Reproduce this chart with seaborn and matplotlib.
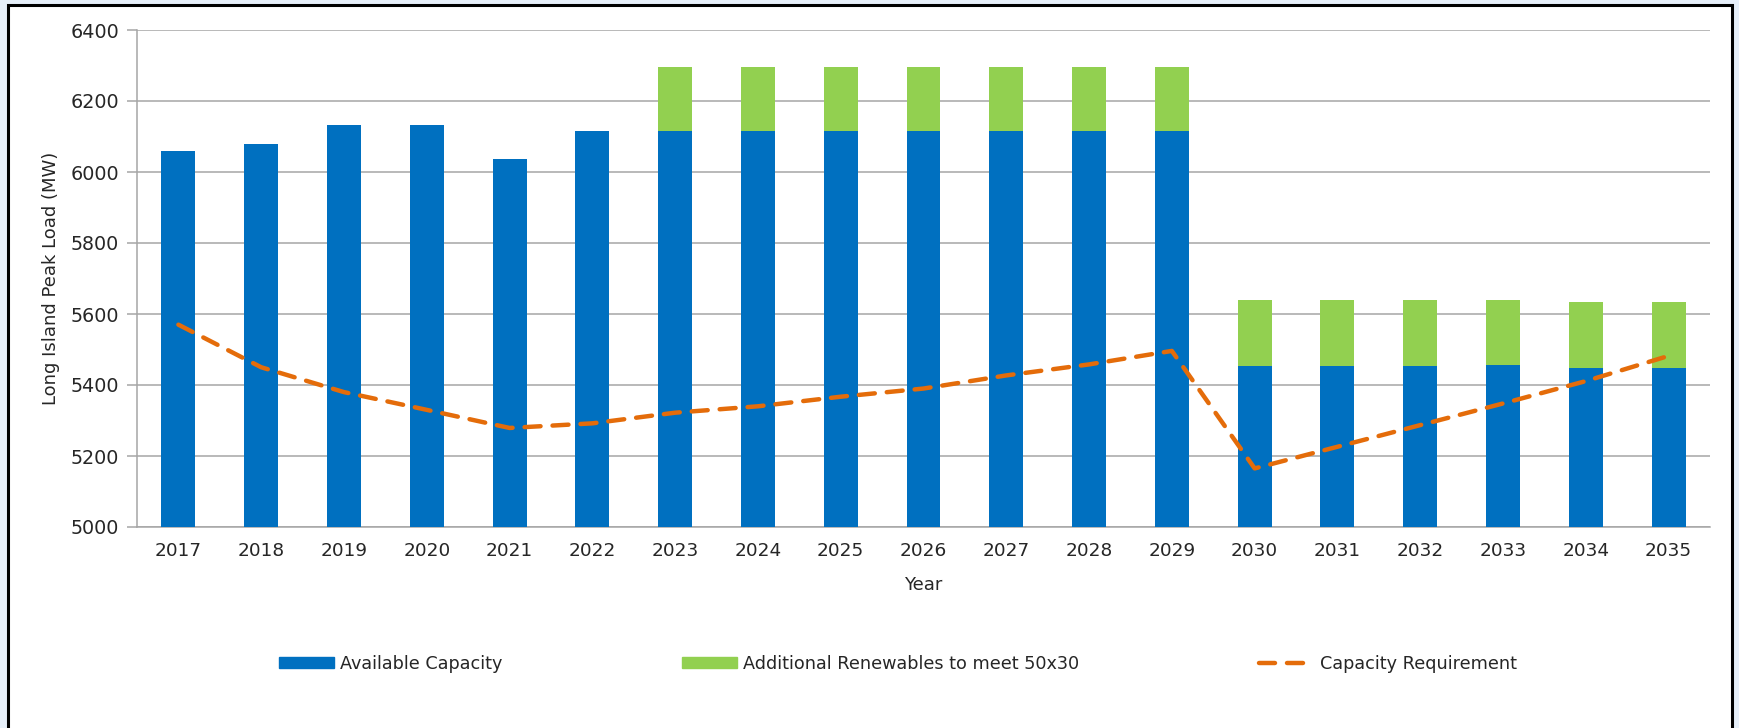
import numpy as np
import pandas as pd
import matplotlib
matplotlib.use('Agg')
import matplotlib.pyplot as plt
import seaborn as sns
from matplotlib.patches import Patch, Rectangle
from matplotlib.lines import Line2D
from matplotlib.ticker import MultipleLocator, FixedLocator

# chart values
years = [str(y) for y in range(2017, 2036)]
available = [6060, 6080, 6132, 6132, 6037, 6115, 6115, 6115, 6115, 6115, 6115, 6115, 6115,
             5454, 5454, 5454, 5456, 5449, 5449]
renewables = [0, 0, 0, 0, 0, 0, 182, 182, 182, 182, 182, 182, 182,
              185, 185, 185, 183, 184, 184]
requirement = [5570, 5450, 5380, 5330, 5279, 5292, 5322, 5340, 5367, 5390, 5427, 5458, 5496,
               5165, 5226, 5287, 5348, 5411, 5482]

BLUE = '#0070C0'
GREEN = '#92D050'
ORANGE = '#E46C0A'
GRID = '#A6A6A6'
TEXT = '#262626'
DASH = (0, (3.6, 2.7))

df = pd.DataFrame({'Year': years, 'Available': available, 'Renewables': renewables,
                   'Requirement': requirement})
df['Total'] = df['Available'] + df['Renewables']

sns.set_style('white')
plt.rcParams['font.family'] = ['DejaVu Sans']

fig = plt.figure(figsize=(17.39, 7.28), dpi=100)
fig.patch.set_facecolor('#E6EFF9')
# white panel with black frame, kept behind the axes
fig.patches.append(Rectangle((8 / 1739, -0.05), (1732 - 8) / 1739, 1.05 - 5 / 728,
                             transform=fig.transFigure, facecolor='white',
                             edgecolor='black', linewidth=2.2, zorder=-5))

ax = fig.add_axes([137 / 1739, 1 - 527 / 728, (1710 - 137) / 1739, (527 - 30) / 728])
ax.set_facecolor('white')

# stacked bars: total (green) first, available (blue) on top of it
sns.barplot(data=df, x='Year', y='Total', color=GREEN, width=0.41, saturation=1,
            linewidth=0, ax=ax, zorder=2)
sns.barplot(data=df, x='Year', y='Available', color=BLUE, width=0.41, saturation=1,
            linewidth=0, ax=ax, zorder=3)
sns.lineplot(x=np.arange(len(years)), y=df['Requirement'], color=ORANGE, linewidth=3.2,
             ax=ax, zorder=4)
req_line = ax.lines[-1]
req_line.set_linestyle(DASH)
req_line.set_dash_capstyle('round')

ax.set_ylim(5000, 6400)
ax.set_xlim(-0.5, len(years) - 0.5)
ax.yaxis.set_major_locator(MultipleLocator(200))
ax.grid(axis='y', color=GRID, linewidth=1.1, zorder=0)
ax.set_axisbelow(True)

for s in ['top', 'right']:
    ax.spines[s].set_visible(False)
for s in ['left', 'bottom']:
    ax.spines[s].set_color(GRID)
    ax.spines[s].set_linewidth(1.1)

ax.xaxis.set_minor_locator(FixedLocator(np.arange(-0.5, len(years), 1.0)))
ax.tick_params(axis='x', which='major', length=0, pad=11, labelsize=13.3, labelcolor=TEXT)
ax.tick_params(axis='x', which='minor', length=6, width=1.1, color=GRID, direction='out')
ax.tick_params(axis='y', length=7, width=1.1, color=GRID, pad=6, labelsize=13.8,
               labelcolor=TEXT, left=True)

ax.set_xlabel('Year', fontsize=13, color=TEXT)
ax.set_ylabel('Long Island Peak Load (MW)', fontsize=13, color=TEXT)
ax.xaxis.set_label_coords(0.5, -0.098)
ax.yaxis.set_label_coords(-0.049, 0.5)

handles = [Patch(facecolor=BLUE, edgecolor=BLUE),
           Patch(facecolor=GREEN, edgecolor=GREEN),
           Line2D([0], [0], color=ORANGE, linewidth=3.2, linestyle=DASH,
                  dash_capstyle='round')]
labels = ['Available Capacity', 'Additional Renewables to meet 50x30', 'Capacity Requirement']
fig.legend(handles, labels, loc='center', bbox_to_anchor=(898 / 1739, 1 - 664 / 728),
           ncol=3, frameon=False, fontsize=12.7, handlelength=3.1, handleheight=0.6,
           handletextpad=0.34, columnspacing=10.2, labelcolor=TEXT)

fig.savefig('out.png', dpi=100, facecolor=fig.get_facecolor())
